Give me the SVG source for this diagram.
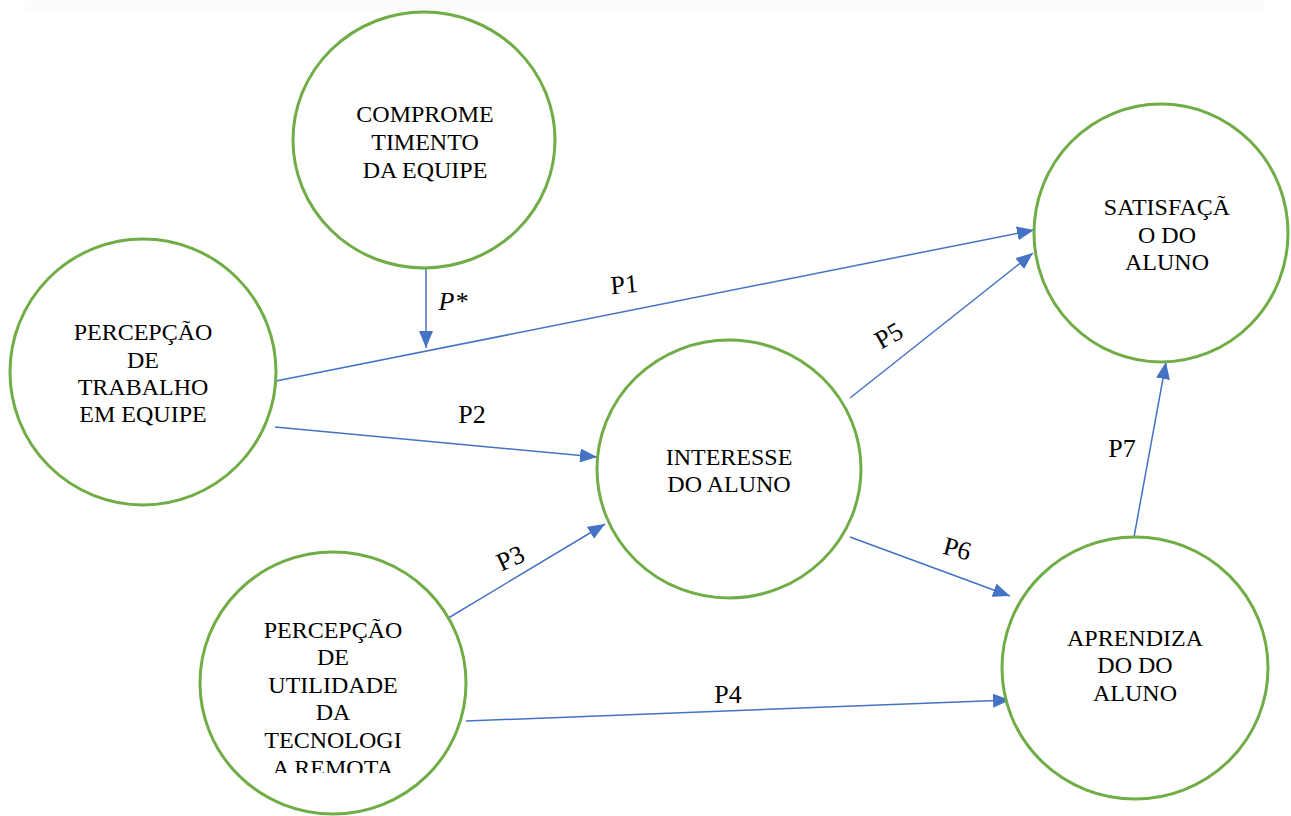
<svg xmlns="http://www.w3.org/2000/svg" width="1291" height="816" viewBox="0 0 1291 816">
<style>
.node{fill:#fff;stroke:#70AD47;stroke-width:3}
.c{stroke:#4472C4;stroke-width:1.5;fill:none;marker-end:url(#ah)}
</style>
<defs>
<marker id="ah" markerUnits="userSpaceOnUse" markerWidth="18" markerHeight="14" refX="17" refY="7" orient="auto">
<path d="M0,0 L17,7 L0,14 Z" fill="#4472C4"/>
</marker>
<clipPath id="clipB"><rect x="0" y="0" width="1291" height="773"/></clipPath>
</defs>
<rect width="1291" height="816" fill="#fff"/>
<rect x="25" y="0" width="1240" height="12" fill="#fcfcfc"/>
<g id="connectors">
<line class="c" x1="426" y1="268" x2="426" y2="348"/>
<line class="c" x1="276" y1="381" x2="1034" y2="230"/>
<line class="c" x1="275" y1="427" x2="597" y2="457"/>
<line class="c" x1="440" y1="623" x2="605" y2="524"/>
<line class="c" x1="466" y1="721" x2="1010" y2="700"/>
<line class="c" x1="850" y1="398" x2="1033" y2="253"/>
<line class="c" x1="850" y1="537" x2="1010" y2="596"/>
<line class="c" x1="1134" y1="537" x2="1166" y2="362"/>
<g font-family="Liberation Serif, Times New Roman, serif" font-size="26" fill="#000" text-anchor="middle">
<text x="453" y="310" font-style="italic">P*</text>
<text transform="translate(625,293) rotate(-5)">P1</text>
<text x="472" y="423">P2</text>
<text transform="translate(514,566) rotate(-25)">P3</text>
<text x="728" y="703">P4</text>
<text transform="translate(893,343) rotate(-30)">P5</text>
<text transform="translate(955,557) rotate(15)">P6</text>
<text x="1122" y="457">P7</text>
</g>
</g>
<g font-family="Liberation Serif, Times New Roman, serif" font-size="24" fill="#000" text-anchor="middle">
<g id="n-comprometimento">
<ellipse class="node" cx="424" cy="140" rx="131" ry="128"/>
<text x="425" y="122">COMPROME</text>
<text x="425" y="150">TIMENTO</text>
<text x="425" y="178">DA EQUIPE</text>
</g>
<g id="n-trabalho">
<ellipse class="node" cx="143" cy="372" rx="133" ry="133"/>
<text x="143" y="340">PERCEPÇÃO</text>
<text x="143" y="368">DE</text>
<text x="143" y="395">TRABALHO</text>
<text x="143" y="422">EM EQUIPE</text>
</g>
<g id="n-interesse">
<ellipse class="node" cx="729" cy="469" rx="132" ry="129"/>
<text x="729" y="465">INTERESSE</text>
<text x="729" y="492">DO ALUNO</text>
</g>
<g id="n-satisfacao">
<ellipse class="node" cx="1161" cy="233" rx="127" ry="129"/>
<text x="1167" y="215">SATISFAÇÃ</text>
<text x="1167" y="243">O DO</text>
<text x="1167" y="270">ALUNO</text>
</g>
<g id="n-aprendizado">
<ellipse class="node" cx="1135" cy="668" rx="133" ry="131"/>
<text x="1135" y="646">APRENDIZA</text>
<text x="1135" y="673">DO DO</text>
<text x="1135" y="701">ALUNO</text>
</g>
<g id="n-utilidade">
<ellipse class="node" cx="333" cy="683" rx="133" ry="131"/>
<g clip-path="url(#clipB)">
<text x="333" y="638">PERCEPÇÃO</text>
<text x="333" y="665">DE</text>
<text x="333" y="693">UTILIDADE</text>
<text x="333" y="720">DA</text>
<text x="333" y="748">TECNOLOGI</text>
<text x="333" y="776">A REMOTA</text>
</g>
</g>
</g>
</svg>
